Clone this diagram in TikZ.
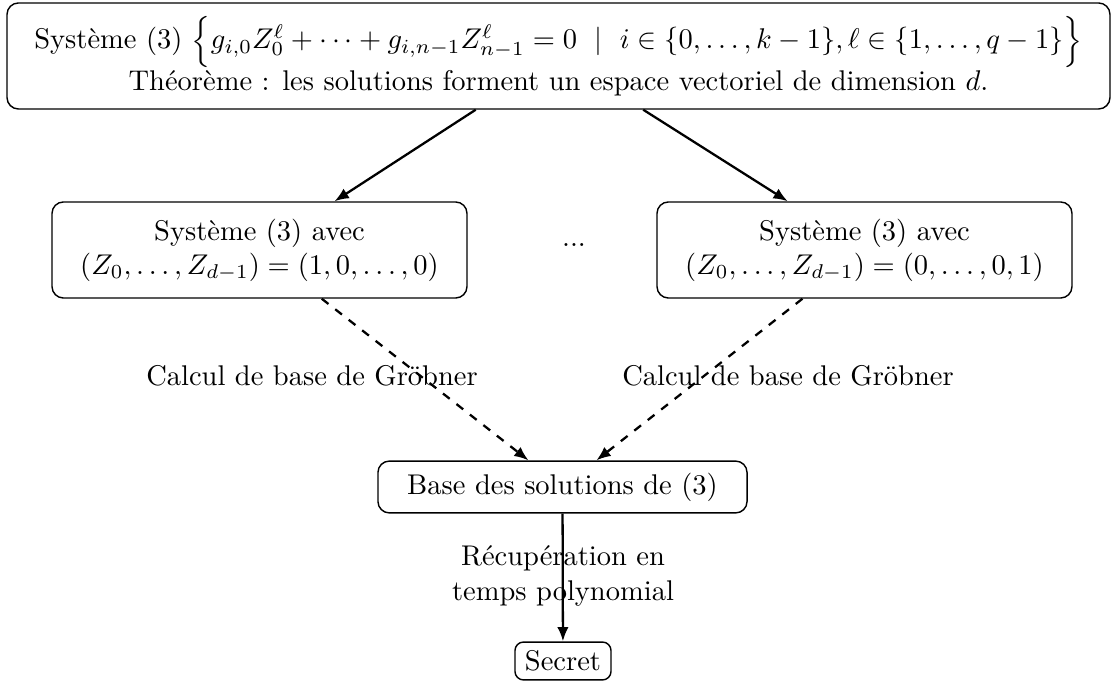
\documentclass[tikz,border=0pt]{standalone}
\usepackage{amsmath,amssymb}
\usetikzlibrary{arrows.meta}
\begin{document}
\begin{tikzpicture}[x=0.35088pt,y=-0.35088pt,
  box/.style={draw,rounded corners=4pt,align=center,inner sep=0pt,line width=0.5pt},
  arr/.style={-{Latex[length=5pt,width=4pt]},thick},
  darr/.style={-{Latex[length=5pt,width=4pt]},thick,dashed},
  lbl/.style={align=center,inner sep=0pt}]
\useasboundingbox (0,0) rectangle (1111,681);
\node[box,minimum width=387pt,minimum height=37.2pt] (top) at (558.5,56)
 {Système (3) $\Big\{g_{i,0}Z_0^\ell+\cdots+g_{i,n-1}Z_{n-1}^\ell=0 \ \mid\ i\in\{0,\dots,k-1\},\ell\in\{1,\dots,q-1\}\Big\}$\\
 Théorème : les solutions forment un espace vectoriel de dimension $d$.};
\node[box,minimum width=145.6pt,minimum height=33.7pt] (l) at (259.5,250)
 {Système (3) avec\\ $(Z_0,\dots,Z_{d-1})=(1,0,\dots,0)$};
\node[box,minimum width=145.6pt,minimum height=33.7pt] (r) at (864.5,250)
 {Système (3) avec\\ $(Z_0,\dots,Z_{d-1})=(0,\dots,0,1)$};
\node[lbl] (dots) at (574,245) {...};
\node[box,minimum width=129.5pt,minimum height=18.2pt] (b) at (562.5,487) {Base des solutions de (3)};
\node[box,minimum width=33.7pt,minimum height=13.3pt,rounded corners=3pt] (s) at (563,661) {Secret};
\draw[arr] (top) -- (l);
\draw[arr] (top) -- (r);
\draw[darr] (l) -- (b);
\draw[darr] (r) -- (b);
\draw[arr] (b) -- (s);
\node[lbl] (c1) at (312,376) {Calcul de base de Gröbner};
\node[lbl] (c2) at (788,376) {Calcul de base de Gröbner};
\node[lbl] (rp) at (563,576) {Récupération en\\temps polynomial};
\end{tikzpicture}
\end{document}
